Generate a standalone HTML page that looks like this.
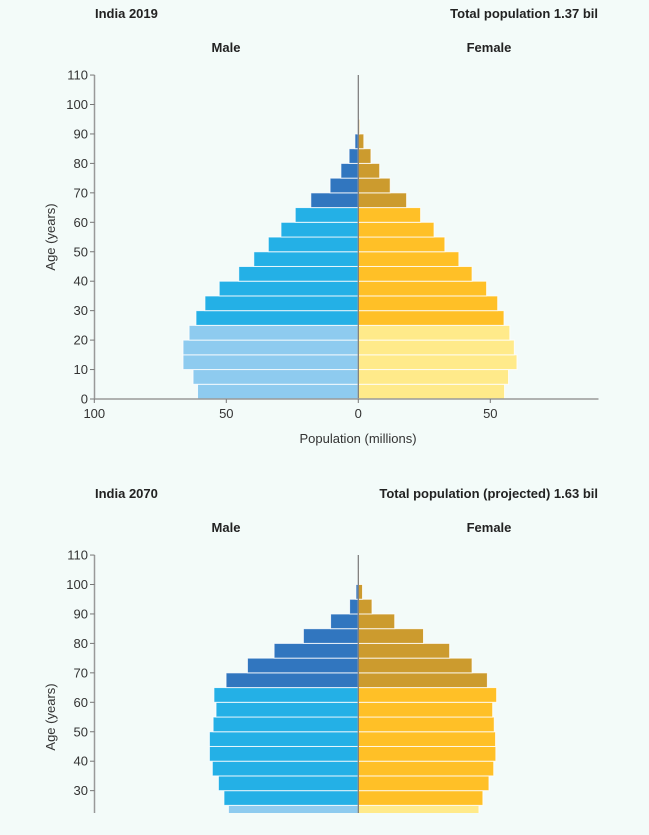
<!DOCTYPE html>
<html><head><meta charset="utf-8"><style>
html,body{margin:0;padding:0;background:#f3fbf9;width:649px;height:835px;overflow:hidden;}
svg{display:block;font-family:"Liberation Sans",Arial,sans-serif;}
</style></head><body>
<svg id="chart" width="649" height="835" viewBox="0 0 649 835">
<defs><clipPath id="clipB"><rect x="0" y="470" width="649" height="343"/></clipPath></defs>
<rect width="649" height="835" fill="#f3fbf9"/>
</svg>
<script>
const ageGroups=[0,5,10,15,20,25,30,35,40,45,50,55,60,65,70,75,80,85,90,95,100];
const male2019=[60.9,62.6,66.4,66.4,64.1,61.5,58.1,52.7,45.3,39.6,34.1,29.3,23.9,18,10.7,6.6,3.5,1.3,0.3,0.05,0];
const female2019=[55.4,56.9,60.1,59.1,57.4,55.2,52.8,48.6,43.1,38.1,32.8,28.7,23.6,18.3,12.1,8.1,4.8,2.1,0.5,0.1,0];
const male2070=[47,48,49.2,49.2,49.2,50.9,53,55.3,56.4,56.4,55,53.9,54.7,50.1,42,31.9,20.8,10.5,3.3,0.9,0.1];
const female2070=[44,45,45.7,45.7,45.7,47.2,49.5,51.3,52.1,52,51.5,50.9,52.4,48.9,43.1,34.6,24.7,13.8,5.2,1.6,0.3];
const xTicks=[-100,-50,0,50];
const yTicks=[0,10,20,30,40,50,60,70,80,90,100,110];
const NS="http://www.w3.org/2000/svg";
const svg=document.getElementById('chart');
function el(tag,attrs,parent,text){const e=document.createElementNS(NS,tag);for(const k in attrs)e.setAttribute(k,attrs[k]);if(text!==undefined)e.textContent=text;(parent||svg).appendChild(e);return e;}
const x=v=>358.3+v*2.64;
function colorM(a){return a<25?'#8ecbef':a<65?'#24b0e6':'#3176bf';}
function colorF(a){return a<25?'#ffea8a':a<65?'#ffc027':'#cc9b2e';}
function pyramid(off,male,female,title,total,showX,clip){
  const y=v=>399+off-(v)*2.945;
  const g=el('g',clip?{'clip-path':'url(#clipB)'}:{});
  
  
  const t=el('text',{x:95,y:18+off,'font-size':13,'font-weight':'bold',fill:'#222'},svg,title);
  
  const tt=el('text',{x:598,y:18+off,'font-size':13,'font-weight':'bold',fill:'#222','text-anchor':'end'},svg,total);
  
  const ml=el('text',{x:226,y:52+off,'font-size':13,'font-weight':'bold',fill:'#222','text-anchor':'middle'},svg,'Male');
  
  const fl=el('text',{x:489,y:52+off,'font-size':13,'font-weight':'bold',fill:'#222','text-anchor':'middle'},svg,'Female');
  
  ageGroups.forEach((a,i)=>{
    const top=y(a+5), h=y(a)-y(a+5);
    const rm=el('rect',{x:x(-male[i]),y:top,width:x(0)-x(-male[i]),height:h,fill:colorM(a),stroke:'#ffffff','stroke-opacity':0.8,'stroke-width':1},g);
    
    const rf=el('rect',{x:x(0),y:top,width:x(female[i])-x(0),height:h,fill:colorF(a),stroke:'#ffffff','stroke-opacity':0.8,'stroke-width':1},g);
    
  });
  const ax=el('line',{x1:94.5,x2:94.5,y1:y(110),y2:clip?813:y(0),stroke:'#999','stroke-width':1.5},g);
  
  const cl=el('line',{x1:x(0),x2:x(0),y1:y(110),y2:clip?813:y(0),stroke:'#777','stroke-width':1.2},g);
  
  yTicks.forEach(v=>{
    if(clip&&y(v)>813)return;
    el('line',{x1:90,x2:94.5,y1:y(v),y2:y(v),stroke:'#777'},g);
    const lt=el('text',{x:88,y:y(v)+4.5,'font-size':13,fill:'#333','text-anchor':'end'},g,String(v));
    
  });
  const yt=el('text',{transform:`translate(55,${237+off}) rotate(-90)`,'font-size':13,fill:'#333','text-anchor':'middle'},svg,'Age (years)');
  
  if(showX){
    const xa=el('line',{x1:94.5,x2:598.5,y1:y(0),y2:y(0),stroke:'#999','stroke-width':1.5},g);
    
    xTicks.forEach(v=>{
      el('line',{x1:x(v),x2:x(v),y1:y(0),y2:y(0)+4,stroke:'#777'},g);
      const lt=el('text',{x:x(v),y:y(0)+19,'font-size':13,fill:'#333','text-anchor':'middle'},g,String(Math.abs(v)));
      
    });
    const xt=el('text',{x:358,y:443+off,'font-size':13,fill:'#333','text-anchor':'middle'},svg,'Population (millions)');
    
  }
}
pyramid(0,male2019,female2019,'India 2019','Total population 1.37 bil',true,false);
pyramid(480,male2070,female2070,'India 2070','Total population (projected) 1.63 bil',false,true);
</script>
</body></html>
